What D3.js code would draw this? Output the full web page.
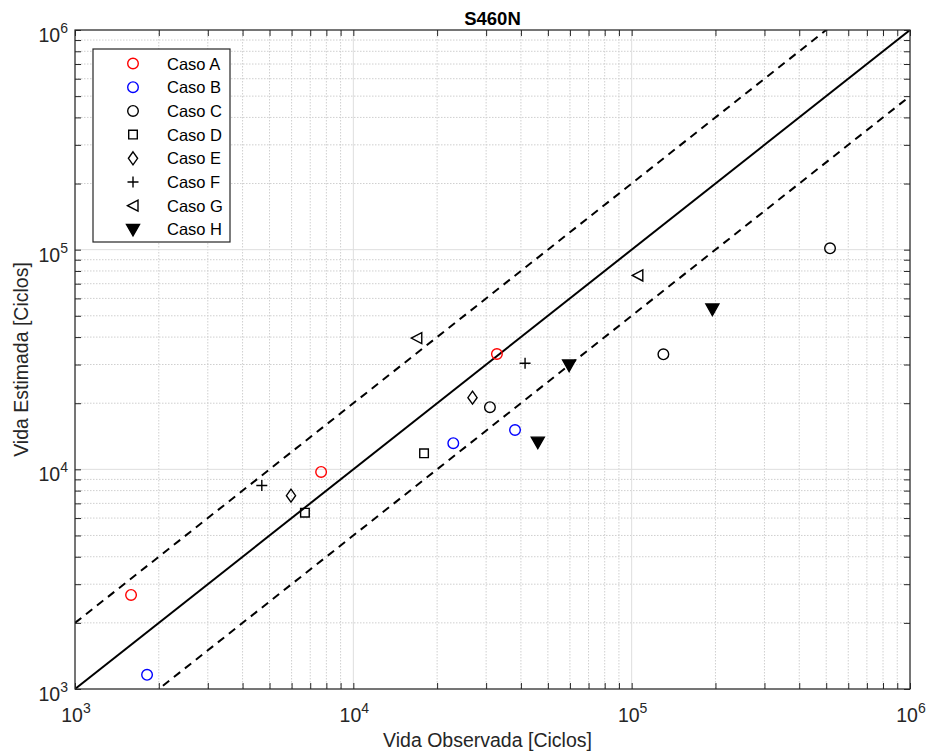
<!DOCTYPE html>
<html lang="es">
<head>
<meta charset="utf-8">
<title>S460N</title>
<script src="https://d3js.org/d3.v7.min.js"></script>
<style>
  body { margin: 0; background: #fff; }
  text { font-family: "Liberation Sans", Arial, sans-serif; }
</style>
</head>
<body>
<script>
// datos (vida observada, vida estimada)
var casos = ["Caso A", "Caso B", "Caso C", "Caso D", "Caso E", "Caso F", "Caso G", "Caso H"];
var obsA = [1590, 7660, 32800],        estA = [2680, 9730, 33500];
var obsB = [1815, 22860, 38100],       estB = [1160, 13150, 15100];
var obsC = [30960, 130000, 516000],    estC = [19180, 33400, 101400];
var obsD = [17950, 6700],              estD = [11830, 6350];
var obsE = [5970, 26800],              estE = [7590, 21200];
var obsF = [4690, 41400],              estF = [8440, 30400];
var obsG = [16900, 105200],            estG = [39600, 76300];
var obsH = [46000, 59600, 195000],     estH = [13300, 29850, 53700];
var xTicks = [1e3, 1e4, 1e5, 1e6];
var yTicks = [1e3, 1e4, 1e5, 1e6];
var factores = [0.5, 1, 2]; // bandas de factor 2

var w = 926, h = 756;
var m = {left: 75, top: 30, right: 16, bottom: 67};
var iw = w - m.left - m.right, ih = h - m.top - m.bottom;

var x = d3.scaleLog().domain([1e3, 1e6]).range([0, iw]);
var y = d3.scaleLog().domain([1e3, 1e6]).range([ih, 0]);

var svg = d3.select("body").append("svg").attr("width", w).attr("height", h);
var g = svg.append("g").attr("transform", "translate(" + m.left + "," + m.top + ")");

// valores menores para rejilla
var minors = [];
for (var e = 3; e < 6; e++) for (var k = 2; k <= 9; k++) minors.push(k * Math.pow(10, e));

// rejilla menor
g.selectAll(".gxm").data(minors).enter().append("line")
  .attr("x1", d => x(d)).attr("x2", d => x(d)).attr("y1", 0).attr("y2", ih)
  .attr("stroke", "#cfcfcf").attr("stroke-dasharray", "1.5,1.5").attr("stroke-width", 1);
g.selectAll(".gym").data(minors).enter().append("line")
  .attr("y1", d => y(d)).attr("y2", d => y(d)).attr("x1", 0).attr("x2", iw)
  .attr("stroke", "#cfcfcf").attr("stroke-dasharray", "1.5,1.5").attr("stroke-width", 1);
// rejilla mayor
g.selectAll(".gx").data(xTicks).enter().append("line")
  .attr("x1", d => x(d)).attr("x2", d => x(d)).attr("y1", 0).attr("y2", ih)
  .attr("stroke", "#dedede").attr("stroke-width", 1);
g.selectAll(".gy").data(yTicks).enter().append("line")
  .attr("y1", d => y(d)).attr("y2", d => y(d)).attr("x1", 0).attr("x2", iw)
  .attr("stroke", "#dedede").attr("stroke-width", 1);

// lineas y = f*x
var line = d3.line().x(d => x(d[0])).y(d => y(d[1]));
g.append("clipPath").attr("id", "clip").append("rect").attr("width", iw).attr("height", ih);
factores.forEach(function (f) {
  g.append("path")
    .attr("clip-path", "url(#clip)")
    .attr("d", line([[1e3, 1e3 * f], [1e6, 1e6 * f]]))
    .attr("fill", "none").attr("stroke", "#000")
    .attr("stroke-width", 2)
    .attr("stroke-dasharray", f === 1 ? null : "8,6");
});

// ejes con ticks hacia dentro
var tickCol = "#262626";
function ejes(sel, orient) {
  var ax;
  if (orient === "bottom") ax = d3.axisTop(x);
  if (orient === "top") ax = d3.axisBottom(x);
  if (orient === "left") ax = d3.axisRight(y);
  if (orient === "right") ax = d3.axisLeft(y);
  ax.tickValues(xTicks.concat(minors)).tickFormat("").tickSizeOuter(0)
    .tickSize(6);
  sel.call(ax);
  sel.select(".domain").remove();
  sel.selectAll(".tick line").attr("stroke", tickCol);
}
g.append("g").attr("transform", "translate(0," + ih + ")").call(ejes, "bottom");
g.append("g").call(ejes, "top");
g.append("g").call(ejes, "left");
g.append("g").attr("transform", "translate(" + iw + ",0)").call(ejes, "right");
g.append("rect").attr("width", iw).attr("height", ih)
  .attr("fill", "none").attr("stroke", tickCol).attr("stroke-width", 1.2);

// etiquetas 10^n
function pot(t, d) {
  var ex = Math.round(Math.log10(d));
  t.append("tspan").text("10");
  t.append("tspan").attr("dy", -9).attr("font-size", 14).text(ex);
}
g.selectAll(".xl").data(xTicks).enter().append("text")
  .attr("x", d => x(d) + 1).attr("y", ih + 33)
  .attr("text-anchor", "middle").attr("font-size", 19.5).attr("fill", tickCol)
  .each(function (d) { pot(d3.select(this), d); });
g.selectAll(".yl").data(yTicks).enter().append("text")
  .attr("x", -7).attr("y", d => y(d) + 12)
  .attr("text-anchor", "end").attr("font-size", 19.5).attr("fill", tickCol)
  .each(function (d) { pot(d3.select(this), d); });

// titulos
svg.append("text").attr("x", m.left + iw / 2).attr("y", 25)
  .attr("text-anchor", "middle").attr("font-weight", "bold").attr("font-size", 18.5)
  .text("S460N");
svg.append("text").attr("x", m.left + iw / 2 - 5).attr("y", 747)
  .attr("text-anchor", "middle").attr("font-size", 19.5).attr("fill", tickCol)
  .text("Vida Observada [Ciclos]");
svg.append("text").attr("transform", "translate(28," + (m.top + ih / 2) + ") rotate(-90)")
  .attr("text-anchor", "middle").attr("font-size", 19.5).attr("fill", tickCol)
  .text("Vida Estimada [Ciclos]");

// marcadores
var forma = {
  "Caso A": {d: "M5.3,0A5.3,5.3,0,1,1,-5.3,0A5.3,5.3,0,1,1,5.3,0Z", c: "#ff0000", fill: "none"},
  "Caso B": {d: "M5.3,0A5.3,5.3,0,1,1,-5.3,0A5.3,5.3,0,1,1,5.3,0Z", c: "#0000ff", fill: "none"},
  "Caso C": {d: "M5.3,0A5.3,5.3,0,1,1,-5.3,0A5.3,5.3,0,1,1,5.3,0Z", c: "#000", fill: "none"},
  "Caso D": {d: "M-4.3,-4.3H4.3V4.3H-4.3Z", c: "#000", fill: "none"},
  "Caso E": {d: "M0,-6.5L4.6,0L0,6.5L-4.6,0Z", c: "#000", fill: "none"},
  "Caso F": {d: "M-5.5,0H5.5M0,-5.5V5.5", c: "#000", fill: "none"},
  "Caso G": {d: "M-5.5,0L5,-5.5V5.5Z", c: "#000", fill: "none"},
  "Caso H": {d: "M-6.5,-5L6.5,-5L0,6.5Z", c: "#000", fill: "#000"}
};
var series = [
  [obsA, estA], [obsB, estB], [obsC, estC], [obsD, estD],
  [obsE, estE], [obsF, estF], [obsG, estG], [obsH, estH]
];
series.forEach(function (s, i) {
  var f = forma[casos[i]];
  var pts = s[0].map((v, j) => [v, s[1][j]]);
  g.selectAll(".p" + i).data(pts).enter().append("path")
    .attr("transform", d => "translate(" + x(d[0]) + "," + y(d[1]) + ")")
    .attr("d", f.d).attr("fill", f.fill).attr("stroke", f.c).attr("stroke-width", 1.4);
});

// leyenda
var lg = svg.append("g").attr("transform", "translate(93,49)");
lg.append("rect").attr("width", 137).attr("height", 193)
  .attr("fill", "#fff").attr("stroke", tickCol).attr("stroke-width", 1.2);
casos.forEach(function (c, i) {
  var f = forma[c];
  var yy = 14.5 + i * 23.7;
  lg.append("path").attr("transform", "translate(40," + yy + ")")
    .attr("d", f.d).attr("fill", f.fill).attr("stroke", f.c).attr("stroke-width", 1.4);
  lg.append("text").attr("x", 74).attr("y", yy + 6)
    .attr("font-size", 16.5).attr("fill", "#000").text(c);
});
</script>
</body>
</html>
